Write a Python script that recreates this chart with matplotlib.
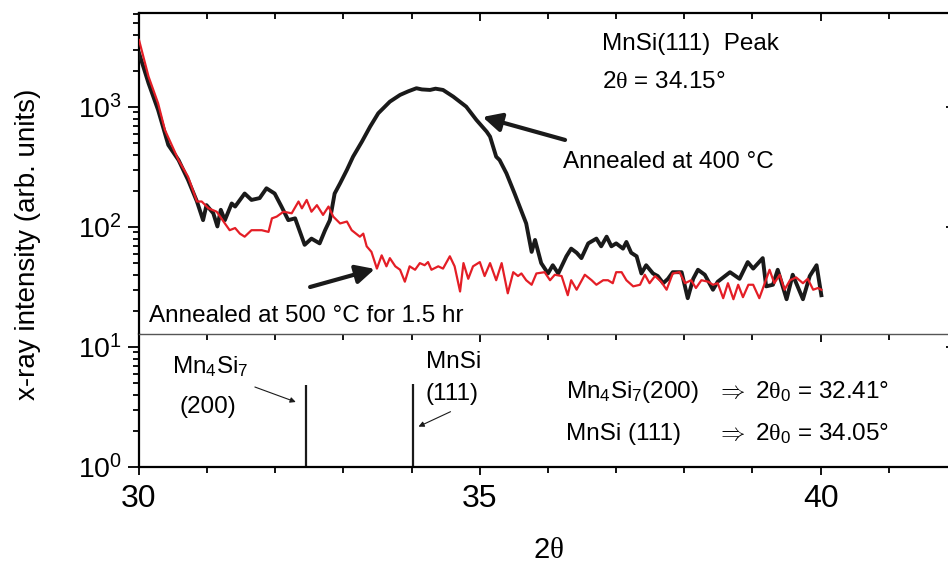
import matplotlib
matplotlib.use("Agg")
import matplotlib.pyplot as plt
from matplotlib.ticker import MultipleLocator, LogLocator, NullFormatter

plt.rcParams['font.family'] = ['Liberation Sans', 'DejaVu Sans']
plt.rcParams['mathtext.fontset'] = 'custom'
plt.rcParams['mathtext.rm'] = 'Liberation Sans'
plt.rcParams['mathtext.it'] = 'Liberation Sans:italic'
plt.rcParams['mathtext.bf'] = 'Liberation Sans:bold'
plt.rcParams['mathtext.sf'] = 'Liberation Serif'   # serif theta, as in the original

# Отожжено при 400 C (черная кривая)
x400 = [30.00, 30.14, 30.28, 30.43, 30.58, 30.72, 30.85, 30.94, 30.99, 31.09,
        31.15, 31.20, 31.26, 31.36, 31.41, 31.55, 31.65, 31.77, 31.87, 31.99,
        32.09, 32.19, 32.29, 32.43, 32.53, 32.65, 32.73, 32.80, 32.87, 32.95,
        33.05, 33.14, 33.27, 33.39, 33.51, 33.68, 33.83, 33.95, 34.07, 34.15,
        34.27, 34.35, 34.46, 34.61, 34.80, 34.95, 35.10, 35.15, 35.24, 35.29,
        35.39, 35.51, 35.68, 35.76, 35.81, 35.90, 36.00, 36.07, 36.15, 36.27,
        36.34, 36.42, 36.49, 36.59, 36.71, 36.78, 36.86, 36.93, 37.00, 37.10,
        37.15, 37.22, 37.30, 37.37, 37.44, 37.54, 37.61, 37.69, 37.76, 37.83,
        37.96, 38.05, 38.13, 38.20, 38.30, 38.42, 38.49, 38.67, 38.81, 38.93,
        39.01, 39.15, 39.20, 39.30, 39.37, 39.50, 39.59, 39.74, 39.84, 39.94,
        40.01]
y400 = [2820, 1575, 944, 482, 361, 246, 163, 114, 152, 130,
        101, 139, 114, 157, 148, 190, 168, 174, 210, 190,
        148, 114, 118, 71, 80, 73, 94, 114, 190, 231,
        299, 385, 514, 685, 886, 1107, 1260, 1350, 1432, 1400,
        1386, 1420, 1386, 1219, 1006, 779, 623, 566, 385, 361,
        280, 190, 107, 62, 78, 50, 41, 48, 41, 57,
        66, 61, 55, 73, 80, 69, 83, 69, 73, 66,
        75, 61, 57, 41, 48, 41, 39, 34, 37, 42,
        42, 25.5, 37, 44, 40, 30, 35, 42, 37, 51,
        45, 55, 32, 33, 44, 25, 40, 25, 39, 48,
        27]

# Отожжено при 500 C, 1.5 ч (красная кривая)
x500 = [30.00, 30.14, 30.28, 30.38, 30.58, 30.72, 30.85, 30.92, 31.02, 31.14,
        31.24, 31.33, 31.41, 31.48, 31.55, 31.65, 31.80, 31.90, 31.95, 32.02,
        32.12, 32.24, 32.34, 32.39, 32.46, 32.53, 32.61, 32.70, 32.78, 32.85,
        32.95, 33.05, 33.12, 33.24, 33.29, 33.34, 33.41, 33.49, 33.56, 33.63,
        33.68, 33.76, 33.83, 33.90, 33.97, 34.05, 34.12, 34.19, 34.24, 34.29,
        34.39, 34.46, 34.56, 34.63, 34.71, 34.76, 34.83, 34.90, 35.00, 35.07,
        35.15, 35.24, 35.32, 35.41, 35.49, 35.56, 35.61, 35.68, 35.76, 35.83,
        35.95, 36.03, 36.10, 36.20, 36.29, 36.34, 36.42, 36.54, 36.64, 36.71,
        36.81, 36.88, 36.95, 37.00, 37.08, 37.15, 37.25, 37.35, 37.42, 37.49,
        37.57, 37.66, 37.74, 37.83, 37.93, 38.01, 38.10, 38.17, 38.25, 38.35,
        38.42, 38.49, 38.57, 38.64, 38.72, 38.79, 38.86, 38.94, 39.01, 39.10,
        39.18, 39.25, 39.32, 39.40, 39.47, 39.55, 39.64, 39.74, 39.81, 39.89,
        39.96, 40.01]
y500 = [3615, 1790, 1073, 643, 361, 262, 163, 163, 143, 134,
        111, 94, 98, 88, 83, 94, 94, 91, 118, 122,
        134, 130, 163, 143, 168, 134, 152, 126, 148, 122,
        107, 111, 94, 83, 88, 69, 62, 45, 58, 47,
        55, 47, 44, 35, 47, 44, 50, 48, 51, 44,
        47, 45, 57, 47, 29, 50, 37, 47, 51, 39,
        50, 36, 50, 28, 42, 39, 41, 36, 33, 41,
        42, 36, 40, 39, 27, 36, 30, 40, 36, 33,
        36, 36, 34, 42, 42, 36, 32, 33, 40, 34,
        39, 35, 30, 41, 42, 34, 36, 31, 36, 35,
        33, 34, 25.5, 34, 25, 33, 26, 33, 33, 25.5,
        34, 44, 34, 40, 30, 36, 38, 34, 37, 30,
        31, 30]

# Положения стандартных линий (нижняя панель)
ref_pos = [32.45, 34.02]
ref_height = [4.8, 4.9]

fig = plt.figure(figsize=(9.48, 5.65), dpi=100)
W, H = 948, 565
left = 139 / W
width = (957 - 139) / W
ax = fig.add_axes([left, 1 - 334 / H, width, (334 - 13) / H])
ax2 = fig.add_axes([left, 1 - 467 / H, width, (467 - 334) / H])

ax.plot(x400, y400, color='#1a1a1a', lw=2.8, zorder=3)
ax.plot(x500, y500, color='#e41e26', lw=1.6, zorder=4)
ax2.vlines(ref_pos, 1, ref_height, color='#1a1a1a', lw=1.6)

for a in (ax, ax2):
    a.set_yscale('log')
    a.set_xlim(30, 42)
    a.xaxis.set_major_locator(MultipleLocator(5))
    a.xaxis.set_minor_locator(MultipleLocator(1))
    a.yaxis.set_minor_locator(LogLocator(base=10, subs=range(2, 10)))
    a.yaxis.set_minor_formatter(NullFormatter())
    a.tick_params(axis='y', which='both', left=True, right=True, labelsize=20.5,
                  width=1.3, pad=4)
    a.tick_params(axis='y', which='major', length=8)
    a.tick_params(axis='y', which='minor', length=4.5)
    a.tick_params(axis='x', which='both', width=1.3)
    a.tick_params(axis='x', which='major', length=6)
    a.tick_params(axis='x', which='minor', length=4)
    for s in ('left', 'right', 'top', 'bottom'):
        a.spines[s].set_linewidth(1.6)
    a.yaxis.set_tick_params(which='both', direction='out')

ax.set_ylim(12.83, 6066)
ax2.set_ylim(1, 12.83)

# верхняя панель
ax.spines['bottom'].set_visible(False)
ax.tick_params(axis='x', which='both', bottom=False, top=True, direction='in',
               labelbottom=False)
ax.tick_params(axis='y', which='both', right=True)
# нижняя панель
ax2.spines['top'].set_linewidth(1.0)
ax2.spines['top'].set_color('#555555')
ax2.tick_params(axis='x', which='both', bottom=True, top=True, labelsize=23, pad=6)
ax2.tick_params(axis='x', which='both', direction='out')
for a in (ax, ax2):
    # правые риски направлены внутрь
    for t in a.yaxis.get_major_ticks() + a.yaxis.get_minor_ticks():
        t.tick2line.set_marker(matplotlib.lines.TICKLEFT)
for t in ax2.xaxis.get_major_ticks() + ax2.xaxis.get_minor_ticks():
    t.tick2line.set_marker(matplotlib.lines.TICKDOWN)

th = r'$\mathsf{\theta}$'
fs = 17.5
ax.text(36.79, 2985, 'MnSi(111)  Peak', fontsize=fs, va='baseline')
ax.text(36.79, 1440, '2' + th + ' = 34.15°', fontsize=fs, va='baseline')
ax.text(36.22, 310, 'Annealed at 400 °C', fontsize=fs, va='baseline')
ax.text(30.14, 16.2, 'Annealed at 500 °C for 1.5 hr', fontsize=fs, va='baseline')
ax.annotate('', xy=(35.04, 825), xytext=(36.25, 531),
            arrowprops=dict(arrowstyle='-|>', lw=3, color='#1a1a1a',
                            mutation_scale=28, shrinkA=0, shrinkB=0))
ax.annotate('', xy=(33.46, 44.7), xytext=(32.51, 31.6),
            arrowprops=dict(arrowstyle='-|>', lw=3, color='#1a1a1a',
                            mutation_scale=28, shrinkA=0, shrinkB=0))

ax2.text(30.49, 6.04, r'Mn$_4$Si$_7$', fontsize=fs, va='baseline')
ax2.text(30.59, 2.84, '(200)', fontsize=fs, va='baseline')
ax2.text(34.21, 6.64, 'MnSi', fontsize=fs, va='baseline')
ax2.text(34.21, 3.62, '(111)', fontsize=fs, va='baseline')
ax2.annotate('', xy=(32.30, 3.48), xytext=(31.70, 4.64),
             arrowprops=dict(arrowstyle='-|>', lw=0.8, color='#1a1a1a',
                             mutation_scale=8, shrinkA=0, shrinkB=0))
ax2.annotate('', xy=(34.10, 2.17), xytext=(34.57, 2.89),
             arrowprops=dict(arrowstyle='-|>', lw=0.8, color='#1a1a1a',
                             mutation_scale=8, shrinkA=0, shrinkB=0))
ax2.text(36.27, 3.74, r'Mn$_4$Si$_7$(200)', fontsize=fs, va='baseline')
ax2.text(36.27, 1.68, 'MnSi (111)', fontsize=fs, va='baseline')
ax2.text(38.47, 3.74, r'$\Rightarrow$ 2$\mathsf{\theta}_0$ = 32.41°', fontsize=fs,
         va='baseline')
ax2.text(38.47, 1.68, r'$\Rightarrow$ 2$\mathsf{\theta}_0$ = 34.05°', fontsize=fs,
         va='baseline')

fig.text(28 / W, 1 - 244 / H, 'x-ray intensity (arb. units)', rotation=90,
         fontsize=20, ha='center', va='center')
fig.text(548 / W, 1 - 558 / H, '2' + th, fontsize=21, ha='center', va='baseline')

fig.savefig('out.png', dpi=100)
